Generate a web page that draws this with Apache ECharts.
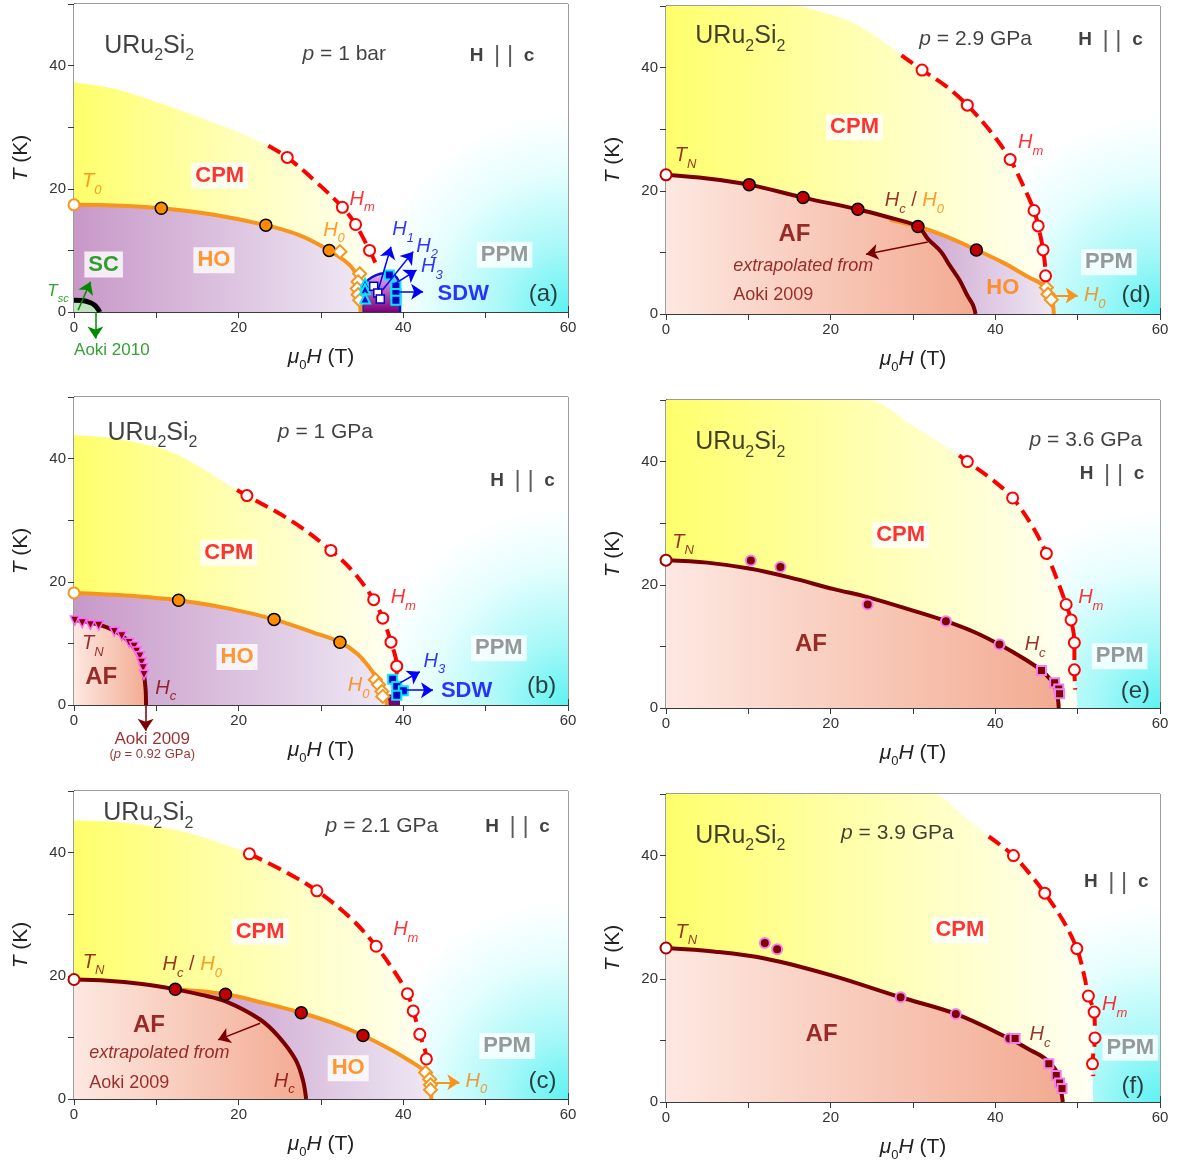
<!DOCTYPE html>
<html><head><meta charset="utf-8">
<script src="https://cdn.jsdelivr.net/npm/echarts@6/dist/echarts.min.js"></script>
<style>html,body{margin:0;padding:0;background:#fff}#c{width:1180px;height:1169px}</style>
</head><body><div id="c"></div>
<script>
// ================= DATA (mu0H [T], T [K]) =================
const xTickLabels = [0, 20, 40, 60];
const yTickLabels = [0, 20, 40];
const panelTags = ['(a)', '(b)', '(c)', '(d)', '(e)', '(f)'];
const pressures = ['1 bar', '1 GPa', '2.1 GPa', '2.9 GPa', '3.6 GPa', '3.9 GPa'];

// (a) p = 1 bar
const a_CPM = [[0,37.3],[5,36.2],[10.7,33.8],[16,31.2],[20,29.2],[23.6,27],[25.9,25.1],[29.5,21],[32.6,17],[34.2,14.2],[35.9,10],[36.6,8],[36.8,0]];
const a_T0line = [[0,17.4],[5,17.3],[10.6,16.85],[17,15.8],[23.3,14.1],[27.5,12.4],[31,10],[33,8.2],[34.1,6.6],[34.5,5],[34.7,3.1],[34.8,0]];
const a_T0open = [[0,17.4]];
const a_T0pts = [[10.6,16.85],[23.3,14.1],[31,10]];
const a_H0pts = [[32.3,9.8],[34.7,6.2],[34.5,4.9],[34.4,3.8],[34.5,2.8],[34.7,1.9]];
const a_HmLine = [[23.6,27],[25.9,25.1],[29.5,21],[32.6,17],[34.2,14.2],[35.9,10],[36.6,8]];
const a_HmPts = [[25.9,25.1],[32.6,17],[34.2,14.2],[35.9,10]];
const a_SC = [[0,1.9],[1,1.85],[2,1.5],[2.6,1],[3,0.3],[3.1,0]];
const a_SDW = [[35,0],[35,3],[35.2,4.2],[35.8,5.3],[36.7,6.0],[37.6,6.3],[38.5,6.2],[39.2,5.6],[39.5,4.6],[39.6,3],[39.6,0]];
const a_SDWtri = [[35.35,4.6],[35.35,3.7],[35.35,2.2]];
const a_SDWopen = [[36.4,4.2],[36.9,3.1],[37.2,2.1]];
const a_SDWfull = [[38.3,6.0],[39.1,4.2],[39.1,3.0],[39.1,1.9]];

// (b) p = 1 GPa
const b_CPM = [[0,43.8],[4.8,43.3],[12,41],[19.8,34.9],[21,34],[26.5,29.8],[31.2,25.1],[34,21.5],[36.4,17.1],[37.5,14.1],[38.5,10.2],[39.2,6.3],[39.3,0]];
const b_T0line = [[0,18.2],[6,17.8],[12.7,17.0],[19,15.6],[24.3,13.9],[29,11.8],[32.3,10.2],[34.5,8.2],[36.2,5.5],[37.3,3],[37.9,1],[38,0]];
const b_T0open = [[0,18.2]];
const b_T0pts = [[12.7,17],[24.3,13.9],[32.3,10.2]];
const b_H0pts = [[36.6,4.1],[37,3.3],[37.4,2.2],[37.5,1.4]];
const b_HmLine = [[19.8,34.9],[21,34],[26.5,29.8],[31.2,25.1],[34,21.5],[36.4,17.1],[37.5,14.1],[38.5,10.2],[39.2,6.3],[39.2,5]];
const b_HmPts = [[21,34],[31.2,25.1],[36.4,17.1],[37.5,14.1],[38.5,10.2],[39.2,6.3]];
const b_AF = [[0,13.8],[2,13.4],[4,12.6],[5.5,11.6],[6.7,10.2],[7.6,8.6],[8.2,6.8],[8.5,4.9],[8.7,2.5],[8.75,0]];
const b_TNpts = [[0.1,13.7],[1,13.3],[2,13],[3,12.9],[4.9,11.9],[5.8,11.2],[6.7,10.1],[7.3,9.5],[7.6,8.7],[8,7.9],[8.2,6.9],[8.4,6.0],[8.5,4.9]];
const b_SDW = [[38,0],[38,1.7],[39.6,1.7],[39.6,0]];
const b_SDWpts = [[38.7,4.2],[39.2,3.0],[40,2.3],[39.2,1.6]];

// (c) p = 2.1 GPa
const c_CPM = [[0,45.2],[5,45],[9.3,44.3],[13,43.5],[16.6,42.1],[21.3,39.8],[25.5,37],[29.5,33.8],[33.5,29.5],[36.7,24.8],[39,20.5],[40.5,17.1],[41.2,14.3],[42,10.5],[42.8,6.5],[43.4,0]];
const c_H0line = [[12.3,17.8],[18.4,17.0],[23,15.6],[27.6,14.0],[31.5,12.3],[35.1,10.3],[38.5,8],[41,6],[42.4,4.7],[43.2,3],[43.4,0]];
const c_AF = [[0,19.4],[4,19.2],[8,18.7],[12.3,17.8],[15.5,16.9],[18.5,15.8],[22.6,12.9],[24.8,10.2],[26.9,6.4],[27.8,3.1],[28.2,0]];
const c_TNopen = [[0,19.4]];
const c_TNpts = [[12.3,17.8],[18.4,17.0],[27.6,14.0],[35.1,10.3]];
const c_H0pts = [[42.7,4.3],[43.2,3.2],[43.3,2.3],[43.3,1.5]];
const c_HmLine = [[21.3,39.8],[25.5,37],[29.5,33.8],[33.5,29.5],[36.7,24.8],[39,20.5],[40.5,17.1],[41.2,14.3],[42,10.5],[42.8,6.5],[42.8,5.3]];
const c_HmPts = [[21.3,39.8],[29.5,33.8],[36.7,24.8],[40.5,17.1],[41.2,14.3],[42,10.5],[42.8,6.5]];

// (d) p = 2.9 GPa
const d_CPM = [[0,50],[15.4,50],[19,49],[22.7,47.3],[26,44.6],[28.6,42],[31.1,39.6],[34,37],[36.6,33.9],[39.5,29.5],[41.8,25.1],[43.5,20.5],[44.7,16.8],[45.2,14.3],[45.8,10.4],[46.1,6.2],[46.3,4.8],[47.1,0]];
const d_H0line = [[27.2,15.3],[30.6,14.2],[34,12.6],[37.7,10.4],[41,8.3],[44,6],[45.9,4.6],[46.6,3],[47,1.5],[47.1,0]];
const d_AF = [[0,22.6],[5,22],[10.1,21.0],[16.65,18.9],[23.3,17.0],[27,15.7],[30.6,14.2],[31.8,12.2],[33.4,10.1],[34.5,7.8],[35.7,5.4],[36.6,3.0],[37.3,1.4],[37.6,0]];
const d_TNopen = [[0,22.6]];
const d_TNpts = [[10.1,21.0],[16.65,18.9],[23.3,17.0],[30.6,14.2],[37.7,10.4]];
const d_H0pts = [[46.2,4.3],[46.4,3.2],[46.8,2.3]];
const d_HmLine = [[28.6,42],[31.1,39.6],[34,37],[36.6,33.9],[39.5,29.5],[41.8,25.1],[43.5,20.5],[44.7,16.8],[45.2,14.3],[45.8,10.4],[46.1,6.2],[46.1,4.9]];
const d_HmPts = [[31.1,39.6],[36.6,33.9],[41.8,25.1],[44.7,16.8],[45.2,14.3],[45.8,10.4],[46.1,6.2]];

// (e) p = 3.6 GPa
const e_CPM = [[0,50],[24.5,50],[29.9,45.9],[35.6,41],[36.6,40],[39.5,37.2],[42.1,34.1],[44.5,29.5],[46.2,25.1],[47.6,20.5],[48.6,16.8],[49.2,14.3],[49.6,10.6],[49.6,6.2],[49.8,3],[50,0]];
const e_AF = [[0,24.0],[5,23.6],[10.3,22.6],[15,21.2],[20.4,19.3],[24.5,18.0],[30,15.8],[34,14.1],[37.5,12.3],[40.5,10.3],[43.5,8],[45.6,6.1],[46.7,4.6],[47.3,3],[47.6,1.5],[47.7,0]];
const e_TNopen = [[0,24.0]];
const e_TNpts = [[10.3,23.95],[13.9,22.9],[24.5,16.8],[34.0,14.1],[40.5,10.3]];
const e_HcSq = [[45.6,6.1],[47.2,4.1],[47.7,3.1],[47.8,2.3]];
const e_HmLine = [[35.6,41],[36.6,40],[39.5,37.2],[42.1,34.1],[44.5,29.5],[46.2,25.1],[47.6,20.5],[48.6,16.8],[49.2,14.3],[49.6,10.6],[49.6,6.2],[49.7,3]];
const e_HmPts = [[36.6,40],[42.1,34.1],[46.2,25.1],[48.6,16.8],[49.2,14.3],[49.6,10.6],[49.6,6.2]];

// (f) p = 3.9 GPa
const f_CPM = [[0,50],[32.5,50],[36,46.6],[39.2,43.1],[42.2,40],[44.2,37],[46,33.9],[48.2,29.5],[49.9,24.9],[50.8,20.5],[51.3,17.2],[52,14.6],[52.1,10.4],[51.8,6.2],[51.9,0]];
const f_AF = [[0,25.0],[6,24.4],[12,23.3],[20,20.6],[28.5,17.0],[35.2,14.3],[41.7,10.3],[44,8.6],[45.9,7.2],[47,5.8],[47.5,4.7],[47.9,2.5],[48.2,0]];
const f_TNopen = [[0,25.0]];
const f_TNpts = [[12,25.8],[13.5,24.8],[28.5,17],[35.2,14.3],[41.7,10.3]];
const f_HcSq = [[42.4,10.3],[46.5,6.2],[47.4,4.3],[47.8,3.1],[48.1,2.2]];
const f_HmLine = [[39.2,43.1],[42.2,40],[44.2,37],[46,33.9],[48.2,29.5],[49.9,24.9],[50.8,20.5],[51.3,17.2],[52,14.6],[52.1,10.4],[51.8,6.2],[51.9,4.2]];
const f_HmPts = [[42.2,40],[46,33.9],[49.9,24.9],[51.3,17.2],[52,14.6],[52.1,10.4],[51.8,6.2]];
const fullRange = [[0,50],[60,50]];

// ================= STYLE / BUILD =================
const FONT = '"Liberation Sans", Arial, sans-serif';
const gridPos = [[74,4],[74,397],[74,791],[666,6],[666,400],[666,794]];
const GW = 494, GH = 308;
const C = {
  orange:'#f7941d', orangeT:'#ff8000', red:'#ff0000', dred:'#7a0000', dredT:'#800000',
  blue:'#0000ff', green:'#008a00', gray:'#808080', frame:'#3a3a3a'
};
const G = echarts.graphic;
const gPPM = () => new G.RadialGradient(1, 1, 0.7, [{offset:0,color:'#5ef2f2'},{offset:0.3,color:'#a8f8f8'},{offset:0.65,color:'#e6fefe'},{offset:0.92,color:'#ffffff'},{offset:1,color:'#ffffff'}]);
const gCPM = () => new G.LinearGradient(0,0,1,0,[{offset:0,color:'#ffff6c'},{offset:0.5,color:'#ffffb4'},{offset:1,color:'#fffff4'}]);
const gHO = () => new G.LinearGradient(0,0,1,0,[{offset:0,color:'#c898c8'},{offset:1,color:'#eee8f4'}]);
const gAF = () => new G.LinearGradient(0,0,1,0,[{offset:0,color:'#fde8e1'},{offset:1,color:'#f3ab92'}]);
const gSDW = () => new G.LinearGradient(0,0,0,1,[{offset:0,color:'#eab2f2'},{offset:1,color:'#7a007a'}]);

const grids = [], xAxes = [], yAxes = [], series = [];
gridPos.forEach(([l,t]) => grids.push({left:l, top:t, width:GW, height:GH, show:true, borderColor:C.frame, borderWidth:1, backgroundColor:'transparent', containLabel:false, outerBoundsMode:'none'}));
const tick = {inside:true, length:6, lineStyle:{color:C.frame}};
for (let i=0;i<6;i++){
  xAxes.push({gridIndex:i, type:'value', min:0, max:60, interval:10, position:'bottom',
    axisLine:{show:true,onZero:false,lineStyle:{color:C.frame}}, axisTick:tick, splitLine:{show:false},
    axisLabel:{margin:8, fontSize:15, color:'#333', fontFamily:FONT, formatter:v => xTickLabels.includes(v) ? String(v) : ''},
    name:'{i|μ}{s|0}{i|H} (T)', nameLocation:'middle', nameGap:30,
    nameTextStyle:{fontSize:21, color:'#222', fontFamily:FONT, lineHeight:30,
      rich:{i:{fontStyle:'italic',fontSize:21,color:'#222',fontFamily:FONT,lineHeight:30}, s:{fontSize:13,color:'#222',fontFamily:FONT,lineHeight:13,verticalAlign:'bottom'}}}});
  yAxes.push({gridIndex:i, type:'value', min:0, max:50, interval:10, position:'left',
    axisLine:{show:true,onZero:false,lineStyle:{color:C.frame}}, axisTick:tick, splitLine:{show:false},
    axisLabel:{margin:8, fontSize:15, color:'#333', fontFamily:FONT, formatter:v => yTickLabels.includes(v) ? String(v) : ''},
    name:'{i|T} (K)', nameLocation:'middle', nameGap:42,
    nameTextStyle:{fontSize:21, color:'#222', fontFamily:FONT, rich:{i:{fontStyle:'italic',fontSize:21,color:'#222',fontFamily:FONT}}}});
}
for (let i=0;i<6;i++){
  xAxes.push({gridIndex:i, type:'value', min:0, max:60, interval:10, position:'top', axisLine:{show:false}, axisTick:tick, axisLabel:{show:false}, splitLine:{show:false}});
  yAxes.push({gridIndex:i, type:'value', min:0, max:50, interval:10, position:'right', axisLine:{show:false}, axisTick:tick, axisLabel:{show:false}, splitLine:{show:false}});
}

const ax = i => ({xAxisIndex:i, yAxisIndex:i, animation:false, silent:true});
function area(i, data, color, z, smooth){
  series.push({type:'line', ...ax(i), data, z, smooth: smooth===undefined?0.3:smooth, symbol:'none', lineStyle:{width:0,opacity:0}, areaStyle:{color, opacity:1}});
}
function curve(i, data, color, width, z, dash, smooth){
  series.push({type:'line', ...ax(i), data, z, smooth: smooth===undefined?0.35:smooth, symbol:'none', lineStyle:{color, width, type: dash || 'solid'}});
}
function pts(i, data, symbol, size, fill, border, bw, z, rot){
  series.push({type:'scatter', ...ax(i), data, z, symbol, symbolSize:size, symbolRotate:rot||0, clip:false, itemStyle:{color:fill, borderColor:border, borderWidth:bw, opacity:1}});
}
function arrow(i, from, to, color, w){
  series.push({type:'lines', coordinateSystem:'cartesian2d', ...ax(i), z:14, clip:false, symbol:['none','arrow'], symbolSize:[1,12],
    lineStyle:{color, width:w||1.5, opacity:1, curveness:0}, data:[{coords:[from,to]}]});
}
function txt(i, x, y, fmt, style, left){
  series.push({type:'scatter', ...ax(i), z:20, clip:false, symbol:'rect', symbolSize:1, itemStyle:{color:'rgba(0,0,0,0)'}, data:[[x,y]],
    label:Object.assign({show:true, position:left?'right':'inside', distance:0, formatter:() => fmt, fontFamily:FONT, color:'#111'}, style)});
}
const symRich = (color,size) => ({
  m:{fontStyle:'italic',fontSize:size,color,fontFamily:FONT,lineHeight:Math.round(size*1.5)},
  s:{fontStyle:'italic',fontSize:Math.round(size*0.65),color,fontFamily:FONT,lineHeight:Math.round(size*0.65),verticalAlign:'bottom'}});
function sym(i,x,y,m,s,color,size){ txt(i,x,y,'{m|'+m+'}{s|'+s+'}',{rich:symRich(color,size||20)},true); }
function titleT(i,x,y){ txt(i,x,y,'{t|URu}{u|2}{t|Si}{u|2}',{rich:{t:{fontSize:25,lineHeight:36,color:'#111',fontFamily:FONT},u:{fontSize:16,lineHeight:16,verticalAlign:'bottom',color:'#111',fontFamily:FONT}}},true); }
function press(i,x,y){ txt(i,x,y,'{p|p} = '+pressures[i],{fontSize:21,lineHeight:28,rich:{p:{fontStyle:'italic',fontSize:21,lineHeight:28,color:'#111',fontFamily:FONT}}},true); }
function hpc(i,x,y){ txt(i,x,y,'{h|H}  {v|| |}  {h|c}',{fontSize:19,rich:{h:{fontWeight:'bold',fontSize:19,color:'#111',fontFamily:FONT},v:{fontSize:24,color:'#333',fontFamily:FONT}}},true); }
function boxed(i,x,y,s,color){ txt(i,x,y,s,{fontSize:22,fontWeight:'bold',color,backgroundColor:'#fff',padding:[3,4,1,4]}); }
function tag(i,x,y){ txt(i,x,y,panelTags[i],{fontSize:24,color:'#111'}); }
function hcho(i,x,y){ txt(i,x,y,'{m|H}{s|c}{k| / }{n|H}{o|0}',{rich:Object.assign({k:{fontSize:20,color:C.dredT,fontFamily:FONT,lineHeight:30}},
  symRich(C.dredT,20),{n:symRich(C.orangeT,20).m,o:symRich(C.orangeT,20).s})},true); }

const hmStyle = [14,7];
function commonPPM(i){ area(i, fullRange, gPPM(), 1, false); }

// ---------- (a) ----------
commonPPM(0);
area(0, a_CPM, gCPM(), 2);
area(0, a_T0line, gHO(), 3);
area(0, a_SC, '#bfe3bf', 4);
curve(0, a_SC, '#000', 5, 5);
area(0, a_SDW, gSDW(), 4, 0.25);
curve(0, a_SDW, '#1010d0', 2.5, 6, null, 0.25);
curve(0, a_T0line, C.orange, 4, 7);
curve(0, a_HmLine, C.red, 4, 7, hmStyle);
pts(0, a_T0open, 'circle', 11, '#fff', C.orange, 2, 10);
pts(0, a_T0pts, 'circle', 12, '#ff8c00', '#000', 1.5, 10);
pts(0, a_H0pts, 'diamond', 13, '#fff', C.orange, 2, 10);
pts(0, a_HmPts, 'circle', 11, '#fff', C.red, 2, 10);
pts(0, a_SDWtri, 'triangle', 10, '#0000d0', '#00e8ff', 2, 11);
pts(0, a_SDWopen, 'rect', 8, '#fff', '#0000c0', 1.5, 11);
pts(0, a_SDWfull, 'rect', 9, '#0000c0', '#00e8ff', 2, 11);
arrow(0, [0.5,0.3], [2,4.9], C.green);
arrow(0, [2.6,0], [2.6,-4.3], C.green);
arrow(0, [36.96,3.6], [38.5,10.6], C.blue);
arrow(0, [37.5,3.6], [41.2,9.8], C.blue);
arrow(0, [39.0,4.6], [41.6,6.8], C.blue);
arrow(0, [39.4,3.3], [42.4,3.3], C.blue);
titleT(0, 3.6, 43.2); press(0, 27.7, 41.8); hpc(0, 48, 41.6);
boxed(0, 17.7, 22.1, 'CPM', C.red);
boxed(0, 17.0, 8.4, 'HO', C.orangeT);
boxed(0, 3.6, 7.7, 'SC', C.green);
boxed(0, 52.3, 9.3, 'PPM', C.gray);
tag(0, 57, 2.9);
sym(0, 0.9, 21.2, 'T', '0', C.orangeT);
sym(0, 33.4, 18.3, 'H', 'm', C.red);
sym(0, 30.2, 13.3, 'H', '0', C.orangeT);
sym(0, 38.6, 13.4, 'H', '1', C.blue);
sym(0, 41.5, 10.7, 'H', '2', C.blue);
sym(0, 42.1, 7.4, 'H', '3', C.blue);
txt(0, 44.1, 2.9, 'SDW', {fontSize:22, fontWeight:'bold', color:C.blue}, true);
sym(0, -3.3, 3.3, 'T', 'sc', C.green, 17);
txt(0, 4.6, -6.2, 'Aoki 2010', {fontSize:17, color:C.green});

// ---------- (b) ----------
commonPPM(1);
area(1, b_CPM, gCPM(), 2);
area(1, b_T0line, gHO(), 3);
area(1, b_AF, gAF(), 4);
area(1, b_SDW, '#7a007a', 4, false);
curve(1, b_AF, C.dred, 4, 6);
curve(1, b_T0line, C.orange, 4, 7);
curve(1, b_HmLine, C.red, 4, 7, hmStyle);
pts(1, b_TNpts, 'triangle', 9, '#800000', '#ff66ff', 1.5, 10, 180);
pts(1, b_T0open, 'circle', 11, '#fff', C.orange, 2, 10);
pts(1, b_T0pts, 'circle', 12, '#ff8c00', '#000', 1.5, 10);
pts(1, b_H0pts, 'diamond', 13, '#fff', C.orange, 2, 10);
pts(1, b_HmPts, 'circle', 11, '#fff', C.red, 2, 10);
pts(1, b_SDWpts, 'rect', 9, '#0000c0', '#00e8ff', 2, 11);
arrow(1, [39.6,3.6], [42.0,5.4], C.blue);
arrow(1, [40.0,2.4], [43.6,2.4], C.blue);
arrow(1, [8.7,0], [8.7,-4.2], C.dred);
titleT(1, 4.0, 44.2); press(1, 24.7, 44.3); hpc(1, 50.5, 36.4);
boxed(1, 18.8, 24.7, 'CPM', C.red);
boxed(1, 19.8, 7.8, 'HO', C.orangeT);
boxed(1, 51.6, 9.2, 'PPM', C.gray);
txt(1, 3.3, 4.5, 'AF', {fontSize:24, fontWeight:'bold', color:C.dredT});
tag(1, 56.8, 3.0);
sym(1, 0.9, 10.0, 'T', 'N', C.dredT);
sym(1, 9.8, 2.7, 'H', 'c', C.dredT);
sym(1, 33.2, 3.1, 'H', '0', C.orangeT);
sym(1, 38.4, 17.4, 'H', 'm', C.red);
sym(1, 42.4, 7.1, 'H', '3', C.blue);
txt(1, 44.5, 2.3, 'SDW', {fontSize:22, fontWeight:'bold', color:C.blue}, true);
txt(1, 9.5, -5.5, 'Aoki 2009', {fontSize:17, color:C.dredT});
txt(1, 9.5, -8.0, '({p|p} = 0.92 GPa)', {fontSize:13, color:C.dredT, rich:{p:{fontStyle:'italic',fontSize:13,color:C.dredT,fontFamily:FONT}}});

// ---------- (c) ----------
commonPPM(2);
area(2, c_CPM, gCPM(), 2);
area(2, c_H0line, gHO(), 3);
area(2, c_AF, gAF(), 4);
curve(2, c_H0line, C.orange, 4, 6);
curve(2, c_AF, C.dred, 4, 7);
curve(2, c_HmLine, C.red, 4, 7, hmStyle);
pts(2, c_TNopen, 'circle', 11, '#fff', '#c00000', 2, 10);
pts(2, c_TNpts, 'circle', 12, '#c00000', '#000', 1.5, 10);
pts(2, c_H0pts, 'diamond', 13, '#fff', C.orange, 2, 10);
pts(2, c_HmPts, 'circle', 11, '#fff', C.red, 2, 10);
arrow(2, [22.6,12.3], [17.5,9.6], C.dred);
arrow(2, [44.0,2.7], [46.8,2.7], C.orange, 2);
titleT(2, 3.5, 46.4); press(2, 30.5, 44.3); hpc(2, 49.9, 44.2);
boxed(2, 22.6, 27.2, 'CPM', C.red);
boxed(2, 33.3, 5.0, 'HO', C.orangeT);
boxed(2, 52.6, 8.6, 'PPM', C.gray);
txt(2, 9.1, 11.9, 'AF', {fontSize:24, fontWeight:'bold', color:C.dredT});
tag(2, 56.9, 2.9);
sym(2, 38.7, 27.5, 'H', 'm', C.red);
sym(2, 1.0, 22.2, 'T', 'N', C.dredT);
hcho(2, 10.7, 21.8);
txt(2, 1.8, 7.4, 'extrapolated from', {fontSize:18, fontStyle:'italic', color:C.dredT}, true);
txt(2, 1.8, 2.6, 'Aoki 2009', {fontSize:18, color:C.dredT}, true);
sym(2, 24.2, 2.9, 'H', 'c', C.dredT);
sym(2, 47.5, 2.9, 'H', '0', C.orangeT);

// ---------- (d) ----------
commonPPM(3);
area(3, d_CPM, gCPM(), 2);
area(3, d_H0line, gHO(), 3);
area(3, d_AF, gAF(), 4);
curve(3, d_H0line, C.orange, 4, 6);
curve(3, d_AF, C.dred, 4, 7);
curve(3, d_HmLine, C.red, 4, 7, hmStyle);
pts(3, d_TNopen, 'circle', 11, '#fff', '#c00000', 2, 10);
pts(3, d_TNpts, 'circle', 12, '#c00000', '#000', 1.5, 10);
pts(3, d_H0pts, 'diamond', 13, '#fff', C.orange, 2, 10);
pts(3, d_HmPts, 'circle', 11, '#fff', C.red, 2, 10);
arrow(3, [31.8,11.7], [24.3,9.7], C.dred);
arrow(3, [47.1,3.0], [50.0,3.0], C.orange, 2);
titleT(3, 3.5, 45.1); press(3, 30.7, 44.6); hpc(3, 50.0, 44.5);
boxed(3, 22.9, 30.3, 'CPM', C.red);
txt(3, 40.9, 4.2, 'HO', {fontSize:22, fontWeight:'bold', color:C.orangeT});
boxed(3, 53.8, 8.4, 'PPM', C.gray);
txt(3, 15.6, 13.0, 'AF', {fontSize:24, fontWeight:'bold', color:C.dredT});
tag(3, 57.1, 3.0);
sym(3, 42.7, 27.8, 'H', 'm', C.red);
sym(3, 1.0, 25.7, 'T', 'N', C.dredT);
hcho(3, 26.5, 18.4);
txt(3, 8.1, 7.8, 'extrapolated from', {fontSize:18, fontStyle:'italic', color:C.dredT}, true);
txt(3, 8.1, 3.1, 'Aoki 2009', {fontSize:18, color:C.dredT}, true);
sym(3, 50.7, 3.0, 'H', '0', C.orangeT);

// ---------- (e) ----------
commonPPM(4);
area(4, e_CPM, gCPM(), 2);
area(4, e_AF, gAF(), 4);
curve(4, e_AF, C.dred, 4, 7);
curve(4, e_HmLine, C.red, 4, 7, hmStyle);
pts(4, e_TNopen, 'circle', 11, '#fff', '#a00000', 2, 10);
pts(4, e_TNpts, 'circle', 10, '#800000', '#f080f0', 2, 10);
pts(4, e_HcSq, 'rect', 9, '#800000', '#f080f0', 2, 10);
pts(4, e_HmPts, 'circle', 11, '#fff', C.red, 2, 10);
titleT(4, 3.5, 43.1); press(4, 44.1, 43.4); hpc(4, 50.2, 38.0);
boxed(4, 28.5, 28.1, 'CPM', C.red);
boxed(4, 55.1, 8.4, 'PPM', C.gray);
txt(4, 17.6, 10.3, 'AF', {fontSize:24, fontWeight:'bold', color:C.dredT});
tag(4, 57.0, 2.7);
sym(4, 0.7, 26.9, 'T', 'N', C.dredT);
sym(4, 43.5, 10.3, 'H', 'c', C.dredT);
sym(4, 50.0, 17.9, 'H', 'm', C.red);

// ---------- (f) ----------
commonPPM(5);
area(5, f_CPM, gCPM(), 2);
area(5, f_AF, gAF(), 4);
curve(5, f_AF, C.dred, 4, 7);
curve(5, f_HmLine, C.red, 4, 7, hmStyle);
pts(5, f_TNopen, 'circle', 11, '#fff', '#a00000', 2, 10);
pts(5, f_TNpts, 'circle', 10, '#800000', '#f080f0', 2, 10);
pts(5, f_HcSq, 'rect', 9, '#800000', '#f080f0', 2, 10);
pts(5, f_HmPts, 'circle', 11, '#fff', C.red, 2, 10);
titleT(5, 3.5, 43.2); press(5, 21.2, 43.6); hpc(5, 50.7, 35.7);
boxed(5, 35.7, 27.9, 'CPM', C.red);
boxed(5, 56.4, 8.8, 'PPM', C.gray);
txt(5, 18.9, 10.9, 'AF', {fontSize:24, fontWeight:'bold', color:C.dredT});
tag(5, 56.7, 2.6);
sym(5, 1.1, 27.6, 'T', 'N', C.dredT);
sym(5, 44.1, 10.9, 'H', 'c', C.dredT);
sym(5, 52.9, 15.8, 'H', 'm', C.red);

const chart = echarts.init(document.getElementById('c'), null, {renderer:'canvas'});
chart.setOption({animation:false, backgroundColor:'#fff', grid:grids, xAxis:xAxes, yAxis:yAxes, series});
</script></body></html>
